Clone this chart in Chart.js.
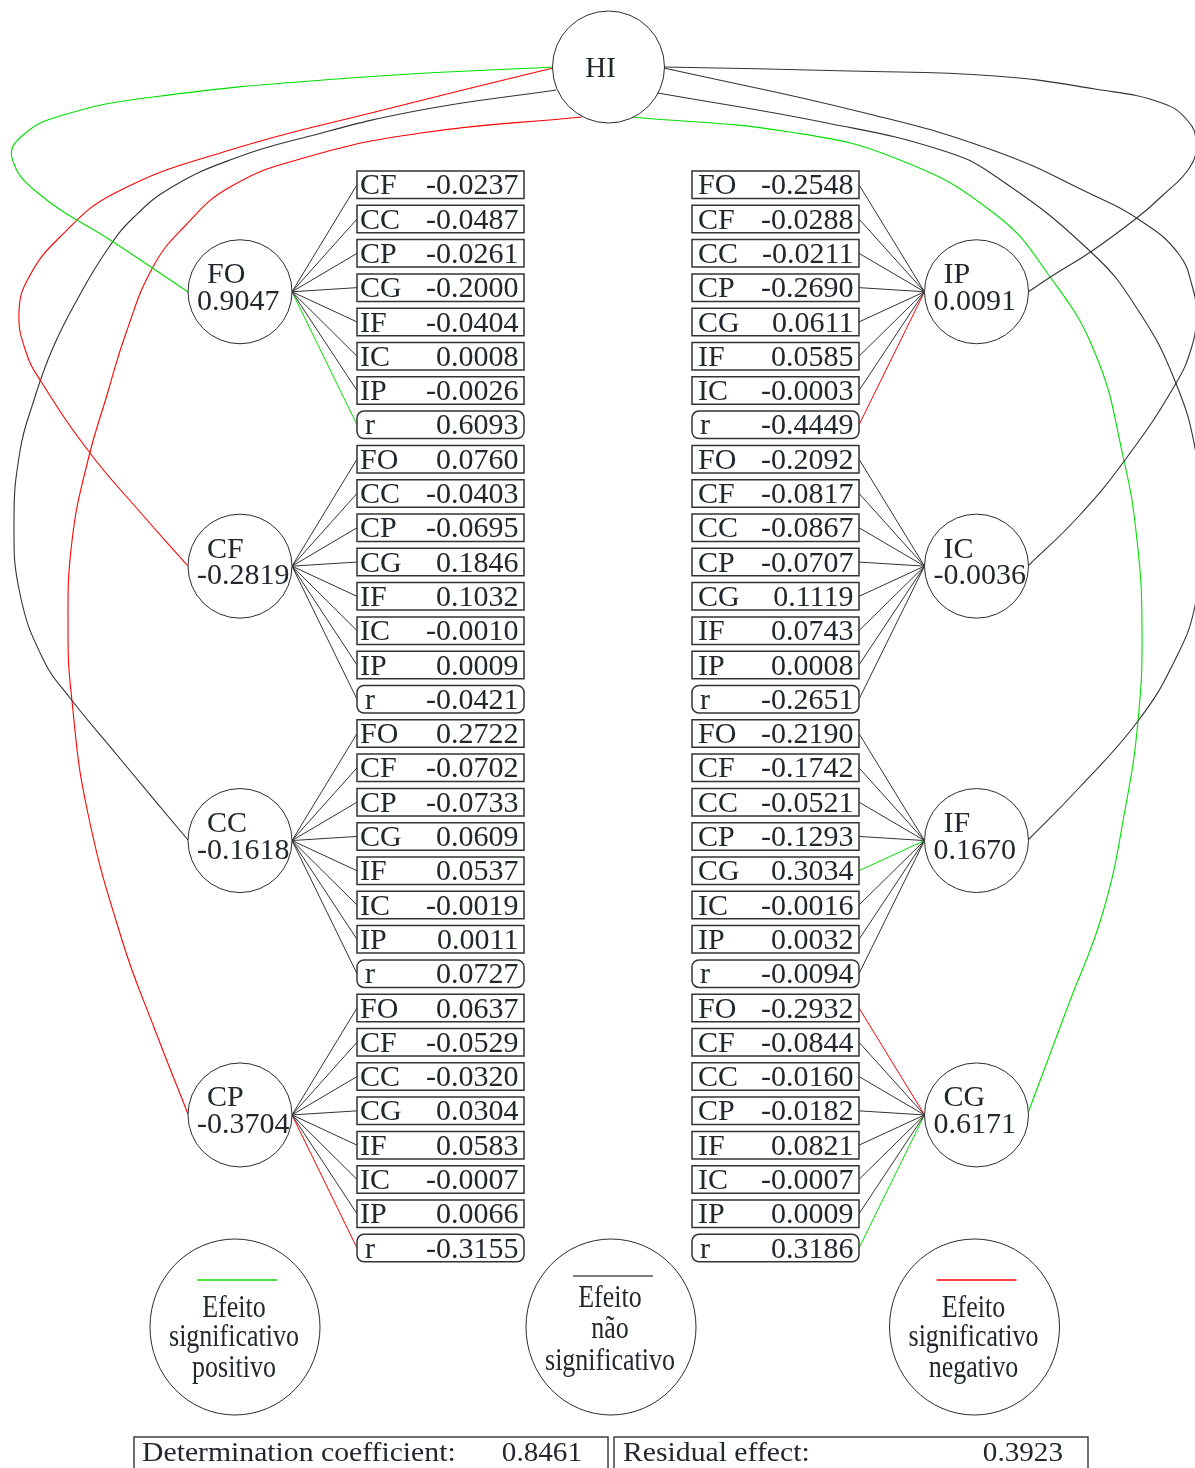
<!DOCTYPE html>
<html>
<head>
<meta charset="utf-8">
<title>Path analysis – HI</title>
<script src="https://cdn.jsdelivr.net/npm/chart.js@4.4.1/dist/chart.umd.min.js"></script>
<style>
  html, body { margin: 0; padding: 0; background: #ffffff; }
  canvas { display: block; }
</style>
</head>
<body>
<canvas id="diagram" width="1195" height="1468"></canvas>
<script>
// ---------------- data ----------------
const responseName = 'HI';
const nodeNames = ['FO', 'CF', 'CC', 'CP', 'IP', 'IC', 'IF', 'CG'];
const directEffects = [0.9047, -0.2819, -0.1618, -0.3704, 0.0091, -0.0036, 0.1670, 0.6171];
// 1 = significant positive, -1 = significant negative, 0 = not significant
const directSignificance = [1, -1, 0, -1, 0, 0, 0, 1];

// order in which the indirect paths are listed for every variable
const pathOrder = ['FO', 'CF', 'CC', 'CP', 'CG', 'IF', 'IC', 'IP'];

const indirectFO = [-0.0237, -0.0487, -0.0261, -0.2000, -0.0404, 0.0008, -0.0026];
const indirectCF = [0.0760, -0.0403, -0.0695, 0.1846, 0.1032, -0.0010, 0.0009];
const indirectCC = [0.2722, -0.0702, -0.0733, 0.0609, 0.0537, -0.0019, 0.0011];
const indirectCP = [0.0637, -0.0529, -0.0320, 0.0304, 0.0583, -0.0007, 0.0066];
const indirectIP = [-0.2548, -0.0288, -0.0211, -0.2690, 0.0611, 0.0585, -0.0003];
const indirectIC = [-0.2092, -0.0817, -0.0867, -0.0707, 0.1119, 0.0743, 0.0008];
const indirectIF = [-0.2190, -0.1742, -0.0521, -0.1293, 0.3034, -0.0016, 0.0032];
const indirectCG = [-0.2932, -0.0844, -0.0160, -0.0182, 0.0821, -0.0007, 0.0009];

// total correlation r of each variable with HI
const correlations = [0.6093, -0.0421, 0.0727, -0.3155, -0.4449, -0.2651, -0.0094, 0.3186];

// significant paths, written as "variable:via"
const significantPositive = ['FO:r', 'IF:CG', 'CG:r'];
const significantNegative = ['CP:r', 'IP:r', 'CG:FO'];

const legendTexts = [
  ['Efeito', 'significativo', 'positivo'],
  ['Efeito', 'não', 'significativo'],
  ['Efeito', 'significativo', 'negativo']
];
const determinationCoefficient = 0.8461;
const residualEffect = 0.3923;

const indirectByNode = [indirectFO, indirectCF, indirectCC, indirectCP,
                        indirectIP, indirectIC, indirectIF, indirectCG];

// ---------------- layout & style ----------------
const W = 1195, H = 1468;
const ROW_TOP = 171, ROW_PITCH = 34.3, ROW_H = 27.5, BOX_W = 167;
const COL_BOX_X = [357, 692];
const NODE_CX = [240, 976.5];
const NODE_R = 52;
const HI_X = 608.5, HI_Y = 67, HI_R = 56;

const COLOR_POS = '#00e000';
const COLOR_NEG = '#ff0000';
const COLOR_NS = '#333333';
const TEXT = '#22272e';
const SERIF = '"Liberation Serif", "Times New Roman", serif';

// routes of the curved HI → variable arrows (one per variable, same order as nodeNames)
const curveRoutes = [
  [[553, 67], [350, 78], [153, 97], [60, 116], [22, 136], [12, 158], [38, 193], [115, 243], [188, 292]],
  [[553, 68], [383, 110], [230, 150], [115, 193], [60, 237], [29, 277], [19, 312], [26, 352], [42, 383], [90, 453], [140, 512], [188, 566]],
  [[556, 90], [421, 110], [306, 137], [230, 160], [172, 187], [134, 217], [107, 250], [77, 300], [52, 350], [34, 400], [20, 451], [14, 523], [20, 594], [43, 659], [70, 698], [117, 755], [188, 840]],
  [[582, 117], [421, 133], [307, 157], [230, 187], [184, 227], [153, 267], [126, 333], [107, 395], [88, 460], [72, 541], [68, 630], [72, 701], [87, 809], [122, 940], [155, 1030], [188, 1114]],
  [[664, 67], [850, 71], [995, 76], [1095, 89], [1162, 103], [1188, 121], [1196, 142], [1190, 167], [1162, 196], [1138, 217], [1092, 251], [1052, 276], [1028, 292]],
  [[664, 68], [865, 113], [995, 151], [1095, 196], [1138, 219], [1178, 253], [1193, 289], [1196, 315], [1192, 346], [1175, 385], [1125, 460], [1078, 517], [1028, 566]],
  [[658, 93], [827, 123], [941, 150], [995, 176], [1092, 253], [1138, 310], [1175, 381], [1196, 453], [1203, 530], [1195, 606], [1175, 660], [1138, 721], [1078, 789], [1028, 840]],
  [[632, 117], [790, 132], [900, 160], [995, 214], [1048, 274], [1095, 353], [1123, 456], [1137, 540], [1142, 630], [1138, 721], [1125, 810], [1103, 912], [1068, 1006], [1028, 1113]]
];

function rowTop(block, i) { return ROW_TOP + (block * 8 + i) * ROW_PITCH; }
function sideOf(k) { return k < 4 ? 0 : 1; }
function nodeCenter(k) {
  return { x: NODE_CX[sideOf(k)], y: ROW_TOP + ((k % 4) * 8 + 3.5) * ROW_PITCH + 0.7 };
}
function rowLabels(k) {
  return pathOrder.filter(v => v !== nodeNames[k]).concat(['r']);
}
function significance(k, via) {
  const key = nodeNames[k] + ':' + via;
  if (significantPositive.includes(key)) return 1;
  if (significantNegative.includes(key)) return -1;
  return 0;
}
function sigColor(s) { return s > 0 ? COLOR_POS : (s < 0 ? COLOR_NEG : COLOR_NS); }
function fmt(v) { return v.toFixed(4); }

// ---------------- datasets ----------------
const datasets = [];

// circles for HI and the eight variables (first dataset → drawn on top)
const circlePoints = [{ x: HI_X, y: HI_Y }].concat(nodeNames.map((_, k) => nodeCenter(k)));
const circleRadii = [HI_R].concat(nodeNames.map(() => NODE_R));
datasets.push({
  data: circlePoints,
  showLine: false,
  pointStyle: 'circle',
  pointRadius: circleRadii,
  pointHoverRadius: circleRadii,
  pointBackgroundColor: '#ffffff',
  pointBorderColor: '#2b2b2b',
  pointBorderWidth: 1
});

// straight connectors from each variable to its path boxes
nodeNames.forEach((name, k) => {
  const side = sideOf(k);
  const c = nodeCenter(k);
  const labels = rowLabels(k);
  labels.forEach((via, i) => {
    const yMid = rowTop(k % 4, i) + ROW_H / 2;
    const nodePt = { x: side === 0 ? c.x + NODE_R : c.x - NODE_R, y: c.y };
    const boxPt = { x: side === 0 ? COL_BOX_X[0] : COL_BOX_X[1] + BOX_W, y: yMid };
    datasets.push({
      data: [nodePt, boxPt],
      showLine: true,
      borderColor: sigColor(significance(k, via)),
      borderWidth: 1,
      pointRadius: 0,
      tension: 0
    });
  });
});

// curved arrows from HI to each variable
curveRoutes.forEach((route, k) => {
  datasets.push({
    data: route.map(p => ({ x: p[0], y: p[1] })),
    showLine: true,
    borderColor: sigColor(directSignificance[k]),
    borderWidth: 1.1,
    pointRadius: 0,
    tension: 0.45
  });
});

// ---------------- text, boxes, legend ----------------
function roundedRect(ctx, x, y, w, h, r) {
  ctx.beginPath();
  ctx.moveTo(x + r, y);
  ctx.lineTo(x + w - r, y);
  ctx.arcTo(x + w, y, x + w, y + r, r);
  ctx.lineTo(x + w, y + h - r);
  ctx.arcTo(x + w, y + h, x + w - r, y + h, r);
  ctx.lineTo(x + r, y + h);
  ctx.arcTo(x, y + h, x, y + h - r, r);
  ctx.lineTo(x, y + r);
  ctx.arcTo(x, y, x + r, y, r);
  ctx.closePath();
}

function scaledText(ctx, text, x, y, sx, sy, align) {
  ctx.save();
  ctx.translate(x, y);
  ctx.scale(sx, sy);
  ctx.textAlign = align;
  ctx.fillText(text, 0, 0);
  ctx.restore();
}

const diagramPlugin = {
  id: 'pathDiagram',
  afterDatasetsDraw(chart) {
    const ctx = chart.ctx;
    const X = v => chart.scales.x.getPixelForValue(v);
    const Y = v => chart.scales.y.getPixelForValue(v);
    ctx.save();
    ctx.textBaseline = 'alphabetic';

    // response variable
    ctx.fillStyle = TEXT;
    ctx.font = '29px ' + SERIF;
    ctx.textAlign = 'center';
    ctx.fillText(responseName, X(HI_X - 8), Y(HI_Y + 10));

    nodeNames.forEach((name, k) => {
      const side = sideOf(k);
      const c = nodeCenter(k);
      // variable name and direct effect inside the circle
      ctx.fillStyle = TEXT;
      ctx.font = '30px ' + SERIF;
      ctx.textAlign = 'left';
      ctx.fillText(name, X(c.x - 33), Y(c.y - 8.5));
      ctx.fillText(fmt(directEffects[k]), X(c.x - 43), Y(c.y + 18.3));

      // path boxes
      const labels = rowLabels(k);
      const values = indirectByNode[k].concat([correlations[k]]);
      labels.forEach((via, i) => {
        const top = rowTop(k % 4, i);
        const x0 = X(COL_BOX_X[side]), x1 = X(COL_BOX_X[side] + BOX_W);
        const y0 = Y(top), y1 = Y(top + ROW_H);
        ctx.lineWidth = 1.5;
        ctx.strokeStyle = '#333333';
        ctx.fillStyle = '#ffffff';
        if (via === 'r') {
          roundedRect(ctx, x0, y0, x1 - x0, y1 - y0, 7);
        } else {
          ctx.beginPath();
          ctx.rect(x0, y0, x1 - x0, y1 - y0);
        }
        ctx.fill();
        ctx.stroke();

        ctx.fillStyle = TEXT;
        ctx.font = '30px ' + SERIF;
        ctx.textAlign = 'left';
        const labelOffset = via === 'r' ? 8 : (side === 0 ? 3 : 6);
        ctx.fillText(via, x0 + labelOffset, Y(top + 23.3));
        ctx.textAlign = 'right';
        ctx.fillText(fmt(values[i]), x1 - 5.5, Y(top + 23.3));
      });
    });

    // legend ellipses
    const legendCenters = [235, 611, 974.5];
    const legendColors = [COLOR_POS, '#555555', COLOR_NEG];
    const legendLineY = [1280, 1276, 1280];
    const legendBaselines = [[1317, 1346, 1377], [1307, 1338, 1370], [1317, 1346, 1377]];
    legendCenters.forEach((cx, j) => {
      ctx.beginPath();
      ctx.ellipse(X(cx), Y(1327), 85, 88, 0, 0, Math.PI * 2);
      ctx.lineWidth = 1;
      ctx.strokeStyle = '#2b2b2b';
      ctx.stroke();

      ctx.beginPath();
      ctx.moveTo(X(cx - 38), Y(legendLineY[j]));
      ctx.lineTo(X(cx + 42), Y(legendLineY[j]));
      ctx.lineWidth = 1.6;
      ctx.strokeStyle = legendColors[j];
      ctx.stroke();

      ctx.fillStyle = TEXT;
      ctx.font = '26px ' + SERIF;
      legendTexts[j].forEach((t, m) => {
        scaledText(ctx, t, X(cx - 1), Y(legendBaselines[j][m]), 1, 1.22, 'center');
      });
    });

    // summary boxes
    ctx.lineWidth = 1.4;
    ctx.strokeStyle = '#333333';
    ctx.strokeRect(X(134), Y(1437), X(608) - X(134), 40);
    ctx.strokeRect(X(614), Y(1437), X(1088) - X(614), 40);
    ctx.fillStyle = TEXT;
    ctx.font = '27px ' + SERIF;
    scaledText(ctx, 'Determination coefficient:', X(142), Y(1461), 1.1, 1, 'left');
    scaledText(ctx, fmt(determinationCoefficient), X(582), Y(1461), 1.08, 1, 'right');
    scaledText(ctx, 'Residual effect:', X(623), Y(1461), 1.1, 1, 'left');
    scaledText(ctx, fmt(residualEffect), X(1063), Y(1461), 1.08, 1, 'right');

    ctx.restore();
  }
};

new Chart(document.getElementById('diagram'), {
  type: 'scatter',
  data: { datasets },
  options: {
    responsive: false,
    devicePixelRatio: 1,
    animation: false,
    events: [],
    layout: { padding: 0, autoPadding: false },
    elements: { line: { capBezierPoints: false } },
    plugins: { legend: { display: false }, tooltip: { enabled: false } },
    scales: {
      x: { type: 'linear', min: 0, max: W, display: false },
      y: { type: 'linear', min: 0, max: H, reverse: true, display: false }
    }
  },
  plugins: [diagramPlugin]
});
</script>
</body>
</html>
